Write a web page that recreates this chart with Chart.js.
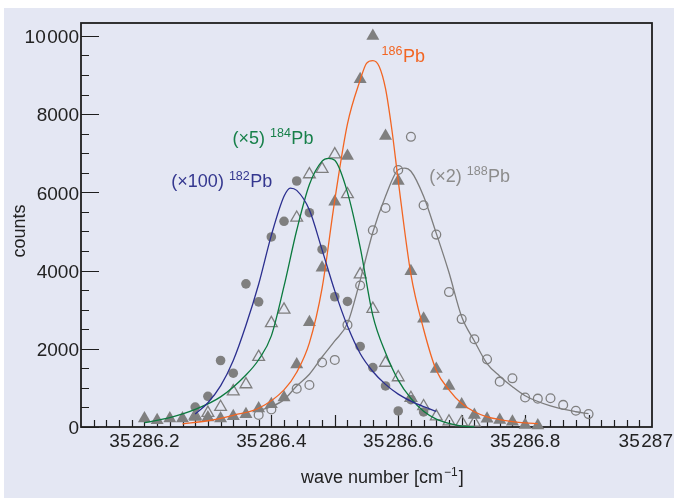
<!DOCTYPE html>
<html>
<head>
<meta charset="utf-8">
<script src="https://cdn.jsdelivr.net/npm/chart.js@4.4.1/dist/chart.umd.min.js"></script>
<style>
  html, body { margin: 0; padding: 0; background: #fff; }
  #wrap { width: 674px; height: 498px; }
</style>
</head>
<body>
<div id="wrap"><canvas id="stage" width="674" height="498"></canvas></div>
<script>
// measured points, x = wave number [cm-1]
var pb182X = [35286.28, 35286.30, 35286.32, 35286.34, 35286.36, 35286.38, 35286.40, 35286.42, 35286.44, 35286.46,
              35286.48, 35286.50, 35286.52, 35286.54, 35286.56, 35286.58, 35286.60, 35286.62, 35286.64];
var pb182Y = [510, 785, 1700, 1375, 3660, 3200, 4860, 5260, 6290, 5480, 4540, 3330, 3210, 2060, 1520, 1050, 410, 700, 385];

var pb184X = [35286.28, 35286.30, 35286.32, 35286.34, 35286.36, 35286.38, 35286.40, 35286.42, 35286.44, 35286.46,
              35286.48, 35286.50, 35286.52, 35286.54, 35286.56, 35286.58, 35286.60, 35286.62, 35286.64, 35286.66,
              35286.68, 35286.70, 35286.72];
var pb184Y = [290, 360, 510, 910, 1090, 1790, 2655, 3000, 5350, 6460, 6600, 6970, 5950, 3900, 3020, 1640, 1270, 740, 530, 270, 140, 120, 110];

var pb186X = [35286.20, 35286.22, 35286.24, 35286.26, 35286.28, 35286.30, 35286.32, 35286.34, 35286.36, 35286.38,
              35286.40, 35286.42, 35286.44, 35286.46, 35286.48, 35286.50, 35286.52, 35286.54, 35286.56, 35286.58,
              35286.60, 35286.62, 35286.64, 35286.66, 35286.68, 35286.70, 35286.72, 35286.74, 35286.76, 35286.78,
              35286.80, 35286.82];
var pb186Y = [215, 171, 215, 215, 256, 240, 215, 274, 325, 471, 581, 752, 1600, 2680, 4070, 5760, 6930, 8890, 10000, 7440,
              6290, 3980, 2770, 1480, 1050, 575, 305, 213, 180, 135, 50, 40];

var pb188X = [35286.38, 35286.40, 35286.44, 35286.46, 35286.48, 35286.50, 35286.52, 35286.54, 35286.56, 35286.58,
              35286.60, 35286.62, 35286.64, 35286.66, 35286.68, 35286.70, 35286.72, 35286.74, 35286.76, 35286.78,
              35286.80, 35286.82, 35286.84, 35286.86, 35286.88, 35286.90];
var pb188Y = [310, 450, 980, 1075, 1650, 1715, 2610, 3617, 5030, 5600, 6570, 7420, 5670, 4920, 3450, 2760, 2245, 1730, 1160, 1245,
              755, 725, 735, 565, 415, 330];

// fitted curves
var fit182X = [35286.28, 35286.30, 35286.32, 35286.34, 35286.36, 35286.38, 35286.40, 35286.42, 35286.43, 35286.44, 35286.46,
               35286.48, 35286.50, 35286.52, 35286.54, 35286.56, 35286.58, 35286.60, 35286.62, 35286.64, 35286.66];
var fit182Y = [330, 620, 1050, 1700, 2600, 3650, 4900, 5900, 6110, 6050, 5550, 4530, 3480, 2580, 1880, 1420, 1090, 840, 660, 520, 400];

var fit184X = [35286.20, 35286.24, 35286.28, 35286.32, 35286.36, 35286.38, 35286.40, 35286.42, 35286.44, 35286.46, 35286.48,
               35286.49, 35286.50, 35286.52, 35286.54, 35286.56, 35286.58, 35286.60, 35286.62, 35286.64, 35286.66, 35286.68,
               35286.70, 35286.72];
var fit184Y = [110, 240, 450, 770, 1330, 1720, 2330, 3600, 5030, 6200, 6800, 6870, 6820, 6000, 4600, 2850, 1900, 1200, 730, 400, 200, 90, 25, 5];

var fit186X = [35286.26, 35286.30, 35286.34, 35286.38, 35286.42, 35286.44, 35286.46, 35286.48, 35286.50, 35286.52, 35286.54,
               35286.55, 35286.56, 35286.57, 35286.58, 35286.59, 35286.60, 35286.62, 35286.64, 35286.66, 35286.68, 35286.70,
               35286.72, 35286.74, 35286.76, 35286.78, 35286.80, 35286.82];
var fit186Y = [80, 160, 300, 480, 950, 1400, 2150, 3550, 5800, 7750, 8870, 9300, 9370, 9220, 8650, 7600, 6300, 3900, 2500, 1450,
               950, 600, 390, 260, 190, 140, 105, 85];

var fit188X = [35286.38, 35286.40, 35286.42, 35286.44, 35286.46, 35286.48, 35286.50, 35286.52, 35286.54, 35286.56, 35286.58,
               35286.60, 35286.61, 35286.62, 35286.64, 35286.66, 35286.68, 35286.70, 35286.72, 35286.74, 35286.76, 35286.78,
               35286.80, 35286.84, 35286.88, 35286.90];
var fit188Y = [420, 520, 700, 1050, 1350, 1790, 2200, 2650, 3750, 4980, 5900, 6580, 6620, 6540, 5900, 4950, 3950, 2820, 2200,
               1620, 1300, 1030, 800, 540, 390, 340];

var xTicks = [35286.2, 35286.4, 35286.6, 35286.8, 35287];
var yTicks = [0, 2000, 4000, 6000, 8000, 10000];

// labels next to the curves (anchor = left end of text baseline, in data units)
var notes = [
  { x: 35286.2424, y: 6143, color: '#34378f', text: ['(\u00d7100) ', '182', 'Pb'] },
  { x: 35286.3388, y: 7236, color: '#17804a', text: ['(\u00d75) ', '184', 'Pb'] },
  { x: 35286.5738, y: 9342, color: '#f26522', text: ['', '186', 'Pb'] },
  { x: 35286.6489, y: 6271, color: '#8c8c8c', text: ['(\u00d72) ', '188', 'Pb'] }
];

var FONT = "'Liberation Sans', Arial, sans-serif";
var MARK = '#7f7f7f';

function pairs(xs, ys) {
  return xs.map(function (x, i) { return { x: x, y: ys[i] }; });
}
function thin(s) { return s.slice(0, 2) + '\u200a' + s.slice(2); }

function curve(xs, ys, color) {
  return {
    data: pairs(xs, ys), showLine: true, borderColor: color, borderWidth: 1.3,
    pointRadius: 0, fill: false, cubicInterpolationMode: 'monotone', clip: false
  };
}

var decor = {
  id: 'decor',
  beforeDraw: function (chart) {
    var ctx = chart.ctx;
    ctx.save();
    ctx.fillStyle = '#ffffff';
    ctx.fillRect(0, 0, chart.width, chart.height);
    ctx.fillStyle = '#e4e7f3';
    ctx.fillRect(4, 8, chart.width - 4, chart.height - 8);
    ctx.restore();
  },
  beforeDatasetsDraw: function (chart) {
    var ctx = chart.ctx, a = chart.chartArea, sx = chart.scales.x, sy = chart.scales.y;
    ctx.save();
    ctx.strokeStyle = '#1e1e1e';
    ctx.lineWidth = 1.2;
    ctx.beginPath();
    // y ticks every 500, longer every 2000
    for (var v = 0; v <= sy.max; v += 500) {
      var py = Math.round(sy.getPixelForValue(v)) + 0.5;
      var len = v % 2000 === 0 ? 18 : 8;
      ctx.moveTo(a.left, py); ctx.lineTo(a.left + len, py);
    }
    // x ticks every 0.02, longer every 0.1
    for (var i = 1; i < 45; i++) {
      var px = Math.round(sx.getPixelForValue(sx.min + i * 0.02)) + 0.5;
      var l = i % 5 === 0 ? 12 : 7;
      ctx.moveTo(px, a.bottom); ctx.lineTo(px, a.bottom - l);
    }
    ctx.stroke();
    ctx.lineWidth = 1.8;
    ctx.strokeRect(a.left, a.top, a.right - a.left, a.bottom - a.top);
    ctx.restore();
  },
  afterDraw: function (chart) {
    var ctx = chart.ctx, a = chart.chartArea, sx = chart.scales.x, sy = chart.scales.y;
    ctx.save();
    // x tick labels
    ctx.font = '19px ' + FONT;
    ctx.fillStyle = '#222';
    ctx.textBaseline = 'alphabetic';
    ctx.textAlign = 'left';
    xTicks.forEach(function (v) {
      var s = thin(String(Math.round(v * 10) / 10));
      var w = ctx.measureText(s).width;
      var x = sx.getPixelForValue(v) - w / 2;
      if (x + w > chart.width - 1) x = chart.width - 1 - w;
      ctx.fillText(s, x, 447);
    });
    // axis titles
    ctx.font = '18px ' + FONT;
    var t1 = 'wave number [cm', t2 = '\u22121', t3 = ']';
    var x0 = 301;
    ctx.fillText(t1, x0, 483);
    x0 += ctx.measureText(t1).width + 1;
    ctx.font = '12px ' + FONT;
    ctx.fillText(t2, x0, 476);
    x0 += ctx.measureText(t2).width + 1;
    ctx.font = '18px ' + FONT;
    ctx.fillText(t3, x0, 483);

    ctx.save();
    ctx.translate(20, 231);
    ctx.rotate(-Math.PI / 2);
    ctx.textAlign = 'center';
    ctx.textBaseline = 'middle';
    ctx.fillText('counts', 0, 0);
    ctx.restore();

    // curve labels
    notes.forEach(function (n) {
      var x = sx.getPixelForValue(n.x), y = sy.getPixelForValue(n.y);
      ctx.fillStyle = n.color;
      ctx.font = '18px ' + FONT;
      ctx.fillText(n.text[0], x, y);
      x += ctx.measureText(n.text[0]).width;
      ctx.font = '12.5px ' + FONT;
      ctx.fillText(n.text[1], x, y - 7);
      x += ctx.measureText(n.text[1]).width + 0.5;
      ctx.font = '18px ' + FONT;
      ctx.fillText(n.text[2], x, y);
    });
    ctx.restore();
  }
};

var canvas = document.getElementById('stage');
var chart = new Chart(canvas, {
  type: 'scatter',
  data: {
    datasets: [
      curve(fit182X, fit182Y, '#2b2f8f'),
      curve(fit184X, fit184Y, '#0b7a3e'),
      curve(fit186X, fit186Y, '#f26522'),
      curve(fit188X, fit188Y, '#7d7d7d'),
      { data: pairs(pb182X, pb182Y), pointStyle: 'circle', pointRadius: 4.8, backgroundColor: MARK, borderColor: MARK, borderWidth: 0, clip: false },
      { data: pairs(pb186X, pb186Y), pointStyle: 'triangle', pointRadius: 7.5, backgroundColor: MARK, borderColor: MARK, borderWidth: 0, clip: false },
      { data: pairs(pb184X, pb184Y), pointStyle: 'triangle', pointRadius: 6.8, backgroundColor: 'rgba(0,0,0,0)', borderColor: MARK, borderWidth: 1.3, clip: false },
      { data: pairs(pb188X, pb188Y), pointStyle: 'circle', pointRadius: 4.4, backgroundColor: 'rgba(0,0,0,0)', borderColor: MARK, borderWidth: 1.3, clip: false }
    ]
  },
  options: {
    responsive: false,
    animation: false,
    devicePixelRatio: 1,
    layout: { padding: { left: 0, right: 22, top: 23, bottom: 0 } },
    plugins: { legend: { display: false }, tooltip: { enabled: false } },
    scales: {
      x: {
        type: 'linear', min: 35286.1, max: 35287,
        grid: { display: false, drawTicks: false }, border: { display: false },
        ticks: { display: false },
        afterBuildTicks: function (s) { s.ticks = xTicks.map(function (v) { return { value: v }; }); },
        afterFit: function (s) { s.height = 71; s.paddingLeft = 0; s.paddingRight = 0; }
      },
      y: {
        type: 'linear', min: 0, max: 10330,
        grid: { display: false, drawTicks: false }, border: { display: false },
        ticks: {
          font: { family: FONT, size: 19 }, color: '#222', padding: 2, labelOffset: 2,
          callback: function (v) { return v >= 10000 ? thin(String(v)) : String(v); }
        },
        afterBuildTicks: function (s) { s.ticks = yTicks.map(function (v) { return { value: v }; }); },
        afterFit: function (s) { s.width = 81; s.paddingTop = 0; s.paddingBottom = 0; }
      }
    }
  },
  plugins: [decor]
});
</script>
</body>
</html>
